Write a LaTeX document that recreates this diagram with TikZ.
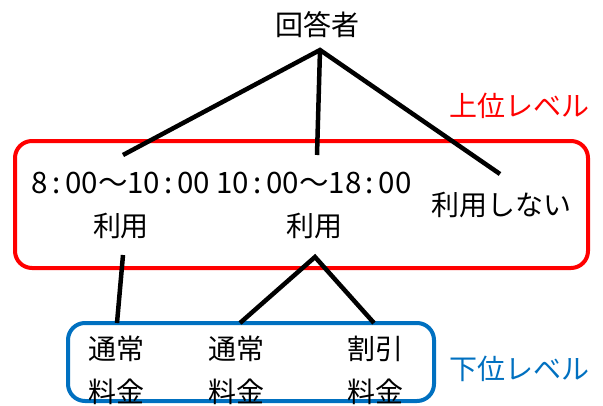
\documentclass[tikz,border=0pt]{standalone}
\usepackage{fontspec}
\setmainfont{Noto Sans CJK JP}
\definecolor{lvred}{HTML}{FF0000}
\definecolor{lvblue}{HTML}{0070C0}
\newcommand{\tcolon}{\hspace{4.5pt}:\hspace{4.5pt}}
\begin{document}
\begin{tikzpicture}[x=1pt,y=-1pt,
  every node/.style={font=\fontsize{28}{43}\selectfont, inner sep=0pt, align=center},
  timetext/.style={font=\fontsize{29.5}{43}\selectfont},
  conn/.style={line width=4.5pt, black},
  lvbox/.style={draw, line width=4pt, rounded corners=17pt, minimum width=#1},
  lvbox/.default=100pt]
\useasboundingbox (0,0) rectangle (603,405);
% level boxes
\node[lvbox=573pt, draw=lvred, minimum height=127pt] (upper) at (301.5,204.5) {};
\node[lvbox=366pt, draw=lvblue, minimum height=78pt] (lower) at (251,362) {};
% texts
\node (root) at (317,25) {回答者};
\node[timetext] (a) at (121,205) {8\tcolon00～10\tcolon00\\{\fontsize{28}{43}\selectfont 利用}};
\node[timetext] (b) at (314,205) {10\tcolon00～18\tcolon00\\{\fontsize{28}{43}\selectfont 利用}};
\node (c) at (501,205) {利用しない};
\node (d) at (116,370) {通常\\料金};
\node (e) at (236,370) {通常\\料金};
\node (f) at (375,370) {割引\\料金};
\node[text=lvred] (uplabel) at (519,106) {上位レベル};
\node[text=lvblue] (lowlabel) at (519,369) {下位レベル};
% connector points
\coordinate (apex) at (320,50);
\coordinate (aTop) at (123,155);
\coordinate (bTop) at (317,155);
\coordinate (cTop) at (500,174);
\coordinate (aBot) at (123,255);
\coordinate (dTop) at (117,323);
\coordinate (bBot) at (315,257);
\coordinate (eTop) at (240,323);
\coordinate (fTop) at (374,323);
% connectors
\draw[conn] (aTop) -- (apex) -- (cTop);
\draw[conn] (apex) -- (bTop);
\draw[conn] (aBot) -- (dTop);
\draw[conn] (eTop) -- (bBot) -- (fTop);
\end{tikzpicture}
\end{document}
